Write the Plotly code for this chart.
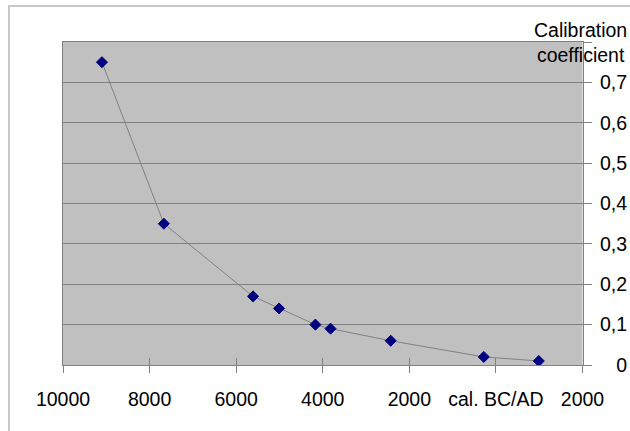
import plotly.graph_objects as go

# Data (signed calendar years: BC negative, AD positive)
years = [-9100, -7670, -5610, -5010, -4170, -3820, -2430, -280, 990]
coeff = [0.75, 0.35, 0.17, 0.14, 0.10, 0.09, 0.06, 0.02, 0.01]

x_tickvals = [-10000, -8000, -6000, -4000, -2000, 0, 2000]
x_ticktext = ["10000", "8000", "6000", "4000", "2000", "cal. BC/AD", "2000"]
y_gridvals = [0, 0.1, 0.2, 0.3, 0.4, 0.5, 0.6, 0.7, 0.8]
y_tickvals = [0, 0.1, 0.2, 0.3, 0.4, 0.5, 0.6, 0.7]
y_ticktext = ["0", "0,1", "0,2", "0,3", "0,4", "0,5", "0,6", "0,7"]
y_title = "Calibration<br>coefficient"

W, H = 630, 431
L, R, T, B = 63, 0, 42, 66
plot_right = 582.5
dom_end = (plot_right - L) / (W - L - R)
plot_h = H - T - B

FONT = "Liberation Sans, Arial, sans-serif"
FS = 19.5
GRID = "#808080"

fig = go.Figure()
fig.add_trace(go.Scatter(
    x=years, y=coeff, mode="lines+markers",
    line=dict(color="#808080", width=1),
    marker=dict(symbol="diamond", size=8.5, color="#000080",
                line=dict(color="#000080", width=1)),
    xaxis="x", yaxis="y", hoverinfo="skip", showlegend=False,
))
fig.add_trace(go.Scatter(
    x=years, y=coeff, mode="markers", marker=dict(opacity=0),
    xaxis="x2", yaxis="y2", hoverinfo="skip", showlegend=False,
))

fig.update_layout(
    width=W, height=H,
    margin=dict(l=L, r=R, t=T, b=B, autoexpand=False),
    paper_bgcolor="white",
    plot_bgcolor="#C0C0C0",
    font=dict(family=FONT, size=FS, color="#000000"),
    showlegend=False,
    xaxis=dict(
        domain=[0, dom_end], range=[-10000, 2000],
        tickvals=x_tickvals, ticktext=x_ticktext,
        ticks="outside", ticklen=7, tickcolor=GRID, tickwidth=1,
        showgrid=False, zeroline=False,
        showline=True, mirror=True, linecolor=GRID, linewidth=1,
        ticklabelstandoff=10,
        tickfont=dict(family=FONT, size=FS, color="#000000"),
    ),
    xaxis2=dict(
        overlaying="x", anchor="y", side="bottom",
        domain=[0, dom_end], range=[-10000, 2000],
        tickvals=x_tickvals, ticks="inside", ticklen=7,
        tickcolor=GRID, tickwidth=1,
        showticklabels=False, showgrid=False, zeroline=False, showline=False,
    ),
    yaxis=dict(
        domain=[0, 1], range=[0, 0.8], side="right", anchor="x",
        tickvals=y_gridvals, ticks="outside", ticklen=8,
        tickcolor=GRID, tickwidth=1, showticklabels=False,
        showgrid=True, gridcolor=GRID, gridwidth=1, zeroline=False,
        showline=True, mirror=True, linecolor=GRID, linewidth=1,
    ),
    yaxis2=dict(
        overlaying="y", anchor="free", position=1, side="right",
        range=[0, 0.8], tickvals=y_tickvals, ticktext=y_ticktext,
        ticks="", ticklabelposition="inside", ticklabeloverflow="allow",
        showgrid=False, zeroline=False, showline=False,
        tickfont=dict(family=FONT, size=FS, color="#000000"),
    ),
    annotations=[dict(
        text=y_title, xref="paper", yref="paper",
        x=(580 - L) / (W - L - R), y=1.0,
        xanchor="center", yanchor="middle", showarrow=False, align="center",
        font=dict(family=FONT, size=FS, color="#000000"),
    )],
    shapes=[dict(
        type="rect", xref="paper", yref="paper", layer="below",
        x0=(9 - L) / (W - L - R), x1=1.2,
        y0=-0.4, y1=(H - B - 6) / plot_h,
        line=dict(color="#C8C8C8", width=2), fillcolor="rgba(0,0,0,0)",
    )],
)

fig.write_html("out.html")
